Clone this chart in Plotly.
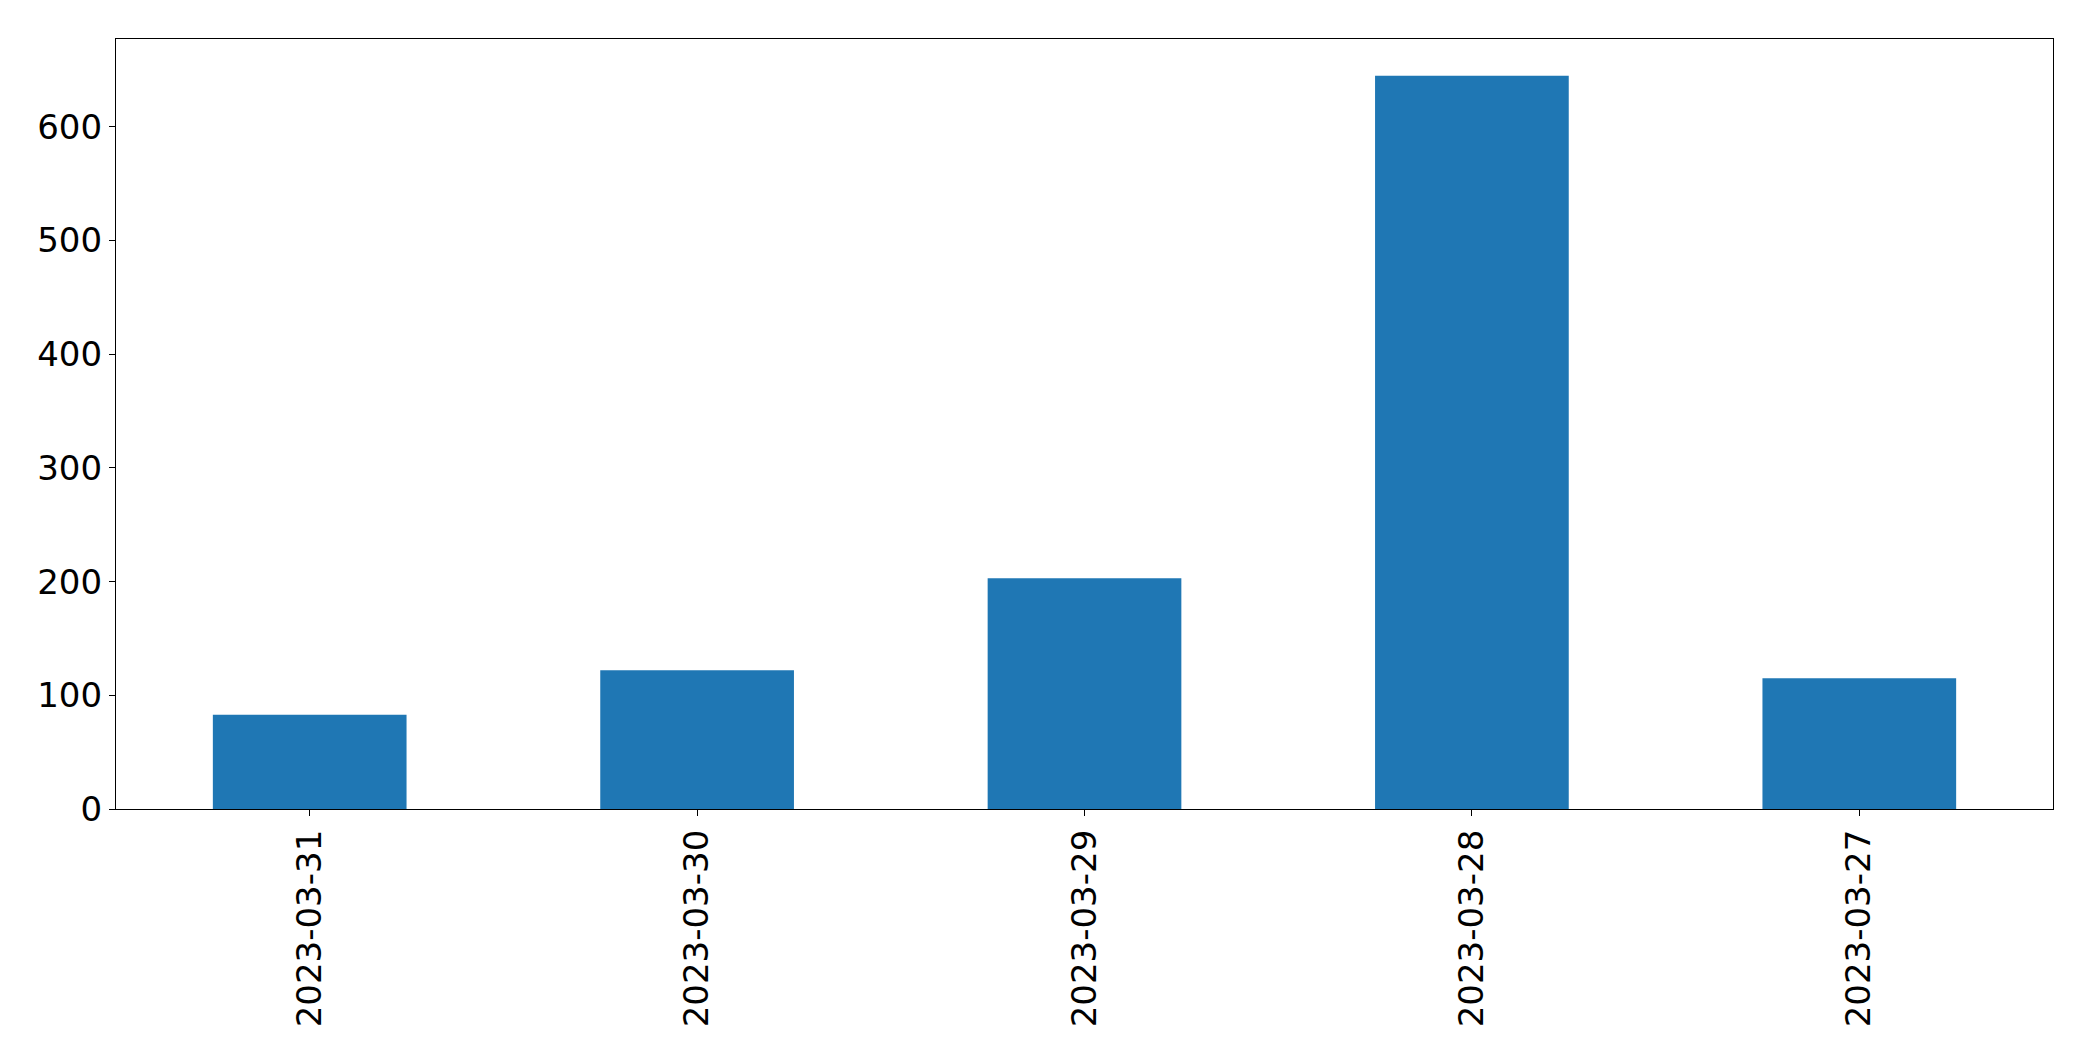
import plotly.graph_objects as go

dates = ["2023-03-31", "2023-03-30", "2023-03-29", "2023-03-28", "2023-03-27"]
counts = [83, 122, 203, 645, 115]
y_ticks = [0, 100, 200, 300, 400, 500, 600]

fig = go.Figure(
    go.Bar(x=dates, y=counts, marker=dict(color="#1f77b4", line=dict(width=0)), width=0.5)
)

axis_common = dict(
    showline=True, linecolor="black", linewidth=1.3, mirror=True,
    showgrid=False, zeroline=False,
    ticks="outside", ticklen=6, tickwidth=1.3, tickcolor="black",
    tickfont=dict(family="DejaVu Sans", size=34, color="black"),
)

fig.update_layout(
    width=2093, height=1061,
    margin=dict(l=116, r=40, t=39, b=252),
    paper_bgcolor="white", plot_bgcolor="white",
    showlegend=False,
    xaxis=dict(type="category", range=[-0.5, 4.5], tickangle=-90, **axis_common),
    yaxis=dict(range=[0, max(counts) * 1.05], tickvals=y_ticks, **axis_common),
)

fig.write_html("out.html")
